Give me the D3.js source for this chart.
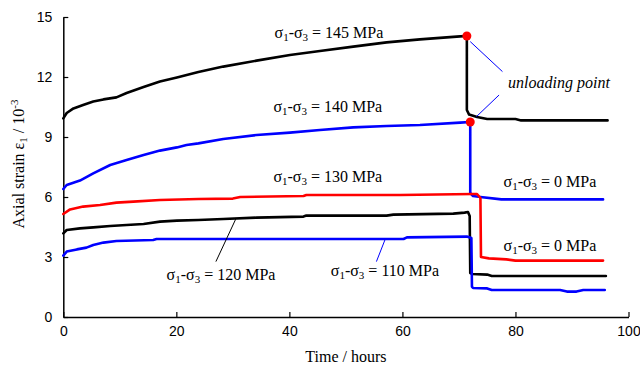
<!DOCTYPE html>
<html>
<head>
<meta charset="utf-8">
<script src="https://cdn.jsdelivr.net/npm/d3@7"></script>
<style>
  html, body { margin: 0; padding: 0; background: #fff; }
  svg { display: block; }
</style>
</head>
<body>
<svg id="chart" width="640" height="367"></svg>
<script>
// Creep curves: time (hours) vs axial strain (10^-3), one array per deviatoric stress level
const curve145 = [[0,9.93],[0.6,10.2],[1.8,10.43],[3.5,10.6],[5.3,10.77],[7.1,10.88],[9.4,10.98],[11.2,11.2],[14.2,11.5],[17.1,11.77],[20.1,11.98],[23.9,12.25],[28.3,12.52],[34.2,12.82],[40.1,13.1],[45.4,13.3],[51.3,13.52],[57.2,13.73],[63.1,13.88],[70.2,14.03],[71.4,14.05],[71.4,10.35],[71.8,10.12],[73.2,10.0],[75,9.9],[80,9.9],[81,9.83],[96.3,9.83]];
const curve140 = [[0,6.4],[0.6,6.6],[2.95,6.82],[5.3,7.18],[8.3,7.6],[11.2,7.85],[14.2,8.1],[17.1,8.32],[20.1,8.48],[21.8,8.6],[23.9,8.68],[28.3,8.9],[34.2,9.1],[40.1,9.22],[45.4,9.35],[51.3,9.48],[57.2,9.55],[63.1,9.6],[70.2,9.72],[72,9.75],[72,6.2],[72.5,6.05],[73.8,6.0],[77.5,5.88],[95.5,5.88]];
const curve130 = [[0,5.15],[1.2,5.38],[3.5,5.52],[6.5,5.6],[9.4,5.72],[12.4,5.77],[17.1,5.85],[23.9,5.9],[30,5.92],[31.3,6.0],[42.5,6.05],[43,6.1],[59.6,6.1],[72.5,6.15],[73.2,6.15],[73.8,5.95],[73.9,3.0],[75.3,2.93],[78.4,2.88],[80,2.82],[95.5,2.82]];
const curve120 = [[0,4.18],[0.6,4.35],[2.95,4.43],[5.3,4.48],[8.3,4.55],[11.2,4.6],[14.2,4.65],[17.1,4.77],[20.1,4.82],[23.9,4.85],[28.3,4.9],[34.2,4.97],[42.5,5.02],[43,5.07],[57.2,5.07],[58.4,5.12],[69,5.17],[71,5.22],[71.6,5.25],[71.9,5.05],[72.0,2.2],[72.4,2.15],[75,2.12],[75.8,2.05],[96,2.05]];
const curve110 = [[0,3.07],[0.6,3.27],[2.4,3.38],[4.1,3.47],[5.3,3.6],[7.1,3.72],[9.4,3.8],[15.9,3.85],[16.5,3.9],[60.2,3.9],[60.8,3.98],[71.4,4.02],[72.2,3.95],[72.3,1.52],[72.5,1.45],[75,1.43],[75.8,1.35],[87.9,1.35],[89.1,1.27],[90.8,1.27],[92,1.35],[95.8,1.35]];

const seriesColors = ["#000000", "#0000ff", "#ff0000", "#000000", "#0000ff"];
const seriesCurves = [curve145, curve140, curve130, curve120, curve110];

// Unloading points (marked red)
const unloadPoints = [[71.4,14.05],[72.0,9.75]];

// Axis ticks
const xTicks = [0, 20, 40, 60, 80, 100];
const yTicks = [0, 3, 6, 9, 12, 15];

// Stress labels: [time, strain, stress text]
const stressLabels = [[47.0,13.95,"145"],[46.8,10.27,"140"],[46.8,6.77,"130"],[27.9,1.85,"120"],[56.9,2.05,"110"],[86.1,6.52,"0"],[86.1,3.3,"0"]];
// Leader lines: [t1, v1, t2, v2, colour]
const leaders = [[72.0,13.77,77.7,12.27,"#0000ff"],[77.1,11.1,73.1,10.02,"#0000ff"],[30.5,4.89,27.0,2.77,"#000000"],[56.9,3.85,55.4,2.77,"#0000ff"]];
const unloadingText = [87.7, 11.43, "unloading point"];

const svg = d3.select("#chart");
const serif = "'Liberation Serif', 'Times New Roman', serif";
const sans = "'Liberation Sans', Arial, sans-serif";

const x = d3.scaleLinear().domain([0, 100]).range([63.3, 628.5]);
const y = d3.scaleLinear().domain([0, 15]).range([317, 17]);

// Axes with inward ticks
const xAxis = svg.append("g").attr("transform", `translate(0,${y(0)})`)
  .call(d3.axisBottom(x).tickValues(xTicks).tickSizeInner(-5).tickSizeOuter(0).tickPadding(9));
const yAxis = svg.append("g").attr("transform", `translate(${x(0)},0)`)
  .call(d3.axisLeft(y).tickValues(yTicks).tickSizeInner(-5).tickSizeOuter(0).tickPadding(11));
[xAxis, yAxis].forEach(a => {
  a.select(".domain").attr("stroke", "#000").attr("stroke-width", 1.5);
  a.selectAll(".tick line").attr("stroke", "#000").attr("stroke-width", 1.2);
  a.selectAll(".tick text").attr("font-family", sans).attr("font-size", 14).attr("fill", "#000");
});

// Curves
const line = d3.line().x(d => x(d[0])).y(d => y(d[1]));
svg.append("g").selectAll("path").data(seriesCurves).join("path")
  .attr("d", line)
  .attr("fill", "none")
  .attr("stroke", (d, i) => seriesColors[i])
  .attr("stroke-width", 2.6)
  .attr("stroke-linejoin", "round")
  .attr("stroke-linecap", "round");

// Leader lines
svg.append("g").selectAll("line").data(leaders).join("line")
  .attr("x1", d => x(d[0])).attr("y1", d => y(d[1]))
  .attr("x2", d => x(d[2])).attr("y2", d => y(d[3]))
  .attr("stroke", d => d[4]).attr("stroke-width", 1);

// Unloading markers
svg.append("g").selectAll("circle").data(unloadPoints).join("circle")
  .attr("cx", d => x(d[0])).attr("cy", d => y(d[1])).attr("r", 4.5)
  .attr("fill", "#ff0000");

// Stress level labels  σ1-σ3 = N MPa
const lbl = svg.append("g").attr("font-family", serif).attr("font-size", 16).attr("fill", "#000");
stressLabels.forEach(d => {
  const t = lbl.append("text").attr("x", x(d[0])).attr("y", y(d[1])).attr("text-anchor", "middle");
  t.append("tspan").text("σ");
  t.append("tspan").attr("font-size", 11).attr("dy", 3).text("1");
  t.append("tspan").attr("dy", -3).text("-σ");
  t.append("tspan").attr("font-size", 11).attr("dy", 3).text("3");
  t.append("tspan").attr("dy", -3).text(" = " + d[2] + " MPa");
});

svg.append("text").attr("x", x(unloadingText[0])).attr("y", y(unloadingText[1]))
  .attr("text-anchor", "middle").attr("font-family", serif).attr("font-style", "italic")
  .attr("font-size", 16).text(unloadingText[2]);

// Axis titles
svg.append("text").attr("x", x(50)).attr("y", 362).attr("text-anchor", "middle")
  .attr("font-family", serif).attr("font-size", 16).text("Time / hours");

const yt = svg.append("text").attr("transform", `translate(24,${y(7.5) - 3}) rotate(-90)`)
  .attr("text-anchor", "middle").attr("font-family", serif).attr("font-size", 16);
yt.append("tspan").text("Axial strain ε");
yt.append("tspan").attr("font-size", 11).attr("dy", 3).text("1");
yt.append("tspan").attr("dy", -3).text(" / 10");
yt.append("tspan").attr("font-size", 11).attr("dy", -6).text("-3");
</script>
</body>
</html>
